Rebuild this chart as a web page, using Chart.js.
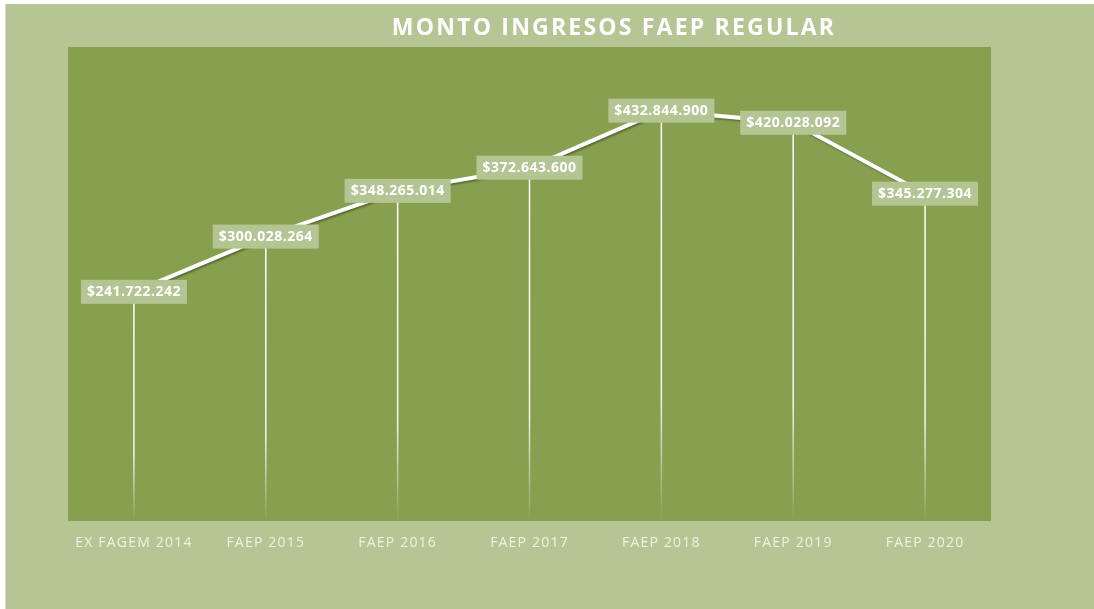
<!DOCTYPE html>
<html><head><meta charset="utf-8">
<script src="https://cdn.jsdelivr.net/npm/chart.js@4"></script>
<style>
html,body{margin:0;padding:0;background:#fff;width:1094px;height:609px;overflow:hidden}
#wrap{position:absolute;left:5px;top:4px;width:1089px;height:605px;background:#b5c694;border-left:1px solid #d9d9d9}
</style></head><body>
<div id="wrap"><canvas id="c" width="1089" height="605"></canvas></div>
<script>
const categories = ["EX FAGEM 2014","FAEP 2015","FAEP 2016","FAEP 2017","FAEP 2018","FAEP 2019","FAEP 2020"];
const montos = [241722242, 300028264, 348265014, 372643600, 432844900, 420028092, 345277304];
const chartTitle = "MONTO INGRESOS FAEP REGULAR";

function fmt(v){ return "$" + String(v).replace(/\B(?=(\d{3})+(?!\d))/g, "."); }

const decor = {
  id: 'decor',
  beforeDraw(chart){
    const {ctx, chartArea:a} = chart;
    ctx.save();
    ctx.fillStyle = '#86a050';
    ctx.fillRect(a.left, a.top, a.right-a.left, a.bottom-a.top);
    ctx.restore();
    ctx.letterSpacing = '1.2px';
  },
  beforeDatasetsDraw(chart){
    const {ctx, chartArea:a} = chart;
    const meta = chart.getDatasetMeta(0);
    ctx.save();
    ctx.letterSpacing = '0px';
    meta.data.forEach(p=>{
      const g = ctx.createLinearGradient(0, p.y, 0, a.bottom);
      g.addColorStop(0, 'rgba(255,255,255,1)');
      g.addColorStop(0.7, 'rgba(255,255,255,0.9)');
      g.addColorStop(1, 'rgba(255,255,255,0)');
      ctx.strokeStyle = g;
      ctx.lineWidth = 1.5;
      ctx.beginPath();
      ctx.moveTo(p.x, p.y);
      ctx.lineTo(p.x, a.bottom);
      ctx.stroke();
    });
    ctx.restore();
  },
  beforeDatasetDraw(chart){
    const ctx = chart.ctx;
    ctx.save();
    ctx.shadowColor = 'rgba(0,0,0,0.35)';
    ctx.shadowOffsetX = 1.5;
    ctx.shadowOffsetY = 1.5;
    ctx.shadowBlur = 2;
  },
  afterDatasetDraw(chart){
    chart.ctx.restore();
  },
  afterDatasetsDraw(chart){
    const {ctx} = chart;
    const meta = chart.getDatasetMeta(0);
    ctx.save();
    ctx.letterSpacing = '0.5px';
    ctx.font = 'bold 14px "Open Sans"';
    ctx.textAlign = 'center';
    ctx.textBaseline = 'middle';
    meta.data.forEach((p,i)=>{
      const t = fmt(montos[i]);
      const w = ctx.measureText(t).width + 12;
      const h = 24;
      ctx.fillStyle = '#b4c594';
      ctx.fillRect(p.x - w/2, p.y - h/2, w, h);
      ctx.fillStyle = '#ffffff';
      ctx.fillText(t, p.x, p.y + 0.5);
    });
    // title
    ctx.letterSpacing = '2.2px';
    ctx.font = 'bold 23px "Open Sans"';
    ctx.fillStyle = '#ffffff';
    ctx.fillText(chartTitle, 608, 24);
    ctx.restore();
    ctx.letterSpacing = '1.2px';
  }
};

new Chart(document.getElementById('c'), {
  type: 'line',
  data: {
    labels: categories,
    datasets: [{
      data: montos,
      borderColor: '#ffffff',
      borderWidth: 4,
      pointRadius: 0,
      tension: 0,
      fill: false
    }]
  },
  options: {
    responsive: false,
    animation: false,
    devicePixelRatio: 1,
    layout: { padding: { left: 62, right: 104, top: 43, bottom: 0 } },
    plugins: { legend: { display: false }, tooltip: { enabled: false }, title: { display: false } },
    scales: {
      x: {
        offset: true,
        grid: { display: false, drawTicks: false },
        border: { display: false },
        ticks: { color: '#eef2e4', font: { family: '"Open Sans"', size: 14 }, padding: 14, maxRotation: 0, autoSkip: false },
        afterFit(s){ s.height = 88; }
      },
      y: {
        display: false,
        min: 0,
        max: 500000000
      }
    }
  },
  plugins: [decor]
});
</script>
</body></html>
